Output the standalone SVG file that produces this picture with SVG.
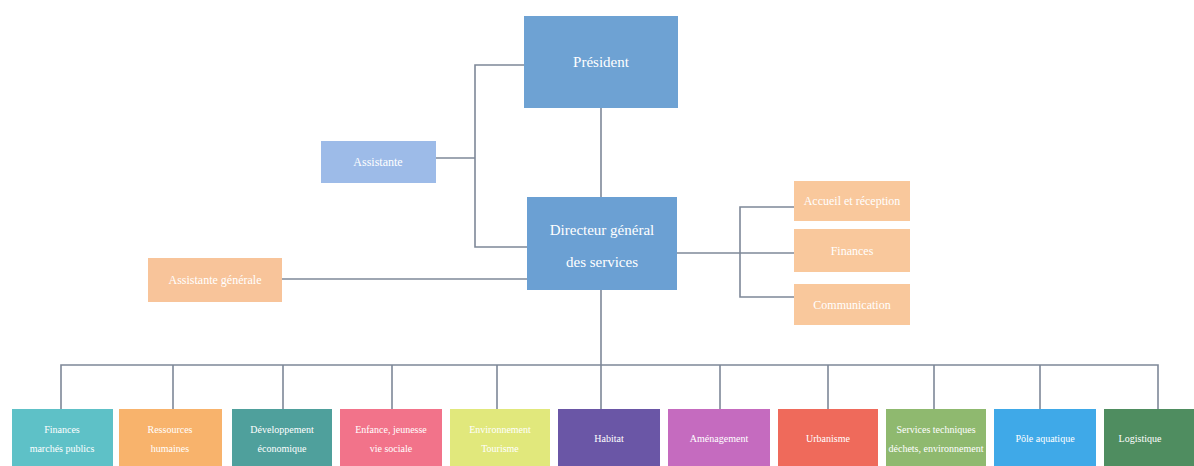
<svg xmlns="http://www.w3.org/2000/svg" width="1194" height="466" viewBox="0 0 1194 466">
<style>
.bg{fill:#ffffff}
.c{fill:none;stroke:#7e8898;stroke-width:1.6}
.t{font-family:"Liberation Serif","DejaVu Serif",serif;fill:#ffffff;text-anchor:middle}
.big{font-size:15px}
.mid{font-size:12px}
.sm{font-size:10px}
</style>
<rect class="bg" x="0" y="0" width="1194" height="466"/>
<g id="connectors">
<path class="c" d="M524 65 H475 V247 H527"/>
<path class="c" d="M436 158 H475"/>
<path class="c" d="M601 108 V197"/>
<path class="c" d="M282 279 H527"/>
<path class="c" d="M677 253 H794"/>
<path class="c" d="M794 207 H740 V297 H794"/>
<path class="c" d="M601 290 V365"/>
<path class="c" d="M61 409 V365 H1158 V409"/>
<path class="c" d="M173 365 V409 M283 365 V409 M392 365 V409 M497 365 V409 M601 365 V409 M720 365 V409 M828 365 V409 M934 365 V409 M1040 365 V409"/>
</g>
<g id="president"><rect x="524" y="16" width="154" height="92" fill="#6ea2d3"/><text class="t big" x="601" y="67">Président</text></g>
<g id="assistante"><rect x="321" y="141" width="115" height="42" fill="#9dbbe8"/><text class="t mid" x="378" y="166">Assistante</text></g>
<g id="dgs"><rect x="527" y="197" width="150" height="93" fill="#6ba0d3"/><text class="t big" x="602" y="235">Directeur général</text><text class="t big" x="602" y="267">des services</text></g>
<g id="assistante-generale"><rect x="148" y="258" width="134" height="44" fill="#f8c49a"/><text class="t mid" x="215" y="284">Assistante générale</text></g>
<g id="accueil"><rect x="794" y="181" width="116" height="40" fill="#f9c89c"/><text class="t mid" x="852" y="205">Accueil et réception</text></g>
<g id="finances-dir"><rect x="794" y="229" width="116" height="43" fill="#f9c89c"/><text class="t mid" x="852" y="255">Finances</text></g>
<g id="communication"><rect x="794" y="284" width="116" height="41" fill="#f9c89c"/><text class="t mid" x="852" y="309">Communication</text></g>
<g id="b1"><rect x="12" y="409" width="101" height="57" fill="#5ec1c7"/><text class="t sm" x="62" y="433">Finances</text><text class="t sm" x="62" y="452">marchés publics</text></g>
<g id="b2"><rect x="119" y="409" width="103" height="57" fill="#f8b36c"/><text class="t sm" x="170" y="433">Ressources</text><text class="t sm" x="170" y="452">humaines</text></g>
<g id="b3"><rect x="232" y="409" width="100" height="57" fill="#4fa09c"/><text class="t sm" x="282" y="433">Développement</text><text class="t sm" x="282" y="452">économique</text></g>
<g id="b4"><rect x="340" y="409" width="102" height="57" fill="#f2738a"/><text class="t sm" x="391" y="433">Enfance, jeunesse</text><text class="t sm" x="391" y="452">vie sociale</text></g>
<g id="b5"><rect x="450" y="409" width="100" height="57" fill="#e1e87c"/><text class="t sm" x="500" y="433">Environnement</text><text class="t sm" x="500" y="452">Tourisme</text></g>
<g id="b6"><rect x="558" y="409" width="102" height="57" fill="#6a56a6"/><text class="t sm" x="609" y="442">Habitat</text></g>
<g id="b7"><rect x="668" y="409" width="102" height="57" fill="#c56bbf"/><text class="t sm" x="719" y="442">Aménagement</text></g>
<g id="b8"><rect x="778" y="409" width="100" height="57" fill="#ef6a5b"/><text class="t sm" x="828" y="442">Urbanisme</text></g>
<g id="b9"><rect x="886" y="409" width="100" height="57" fill="#8fb96f"/><text class="t sm" x="936" y="433">Services techniques</text><text class="t sm" x="936" y="452">déchets, environnement</text></g>
<g id="b10"><rect x="994" y="409" width="102" height="57" fill="#3fa9e8"/><text class="t sm" x="1045" y="442">Pôle aquatique</text></g>
<g id="b11"><rect x="1104" y="409" width="90" height="57" fill="#4f8d60"/><text class="t sm" x="1140" y="442">Logistique</text></g>
</svg>
